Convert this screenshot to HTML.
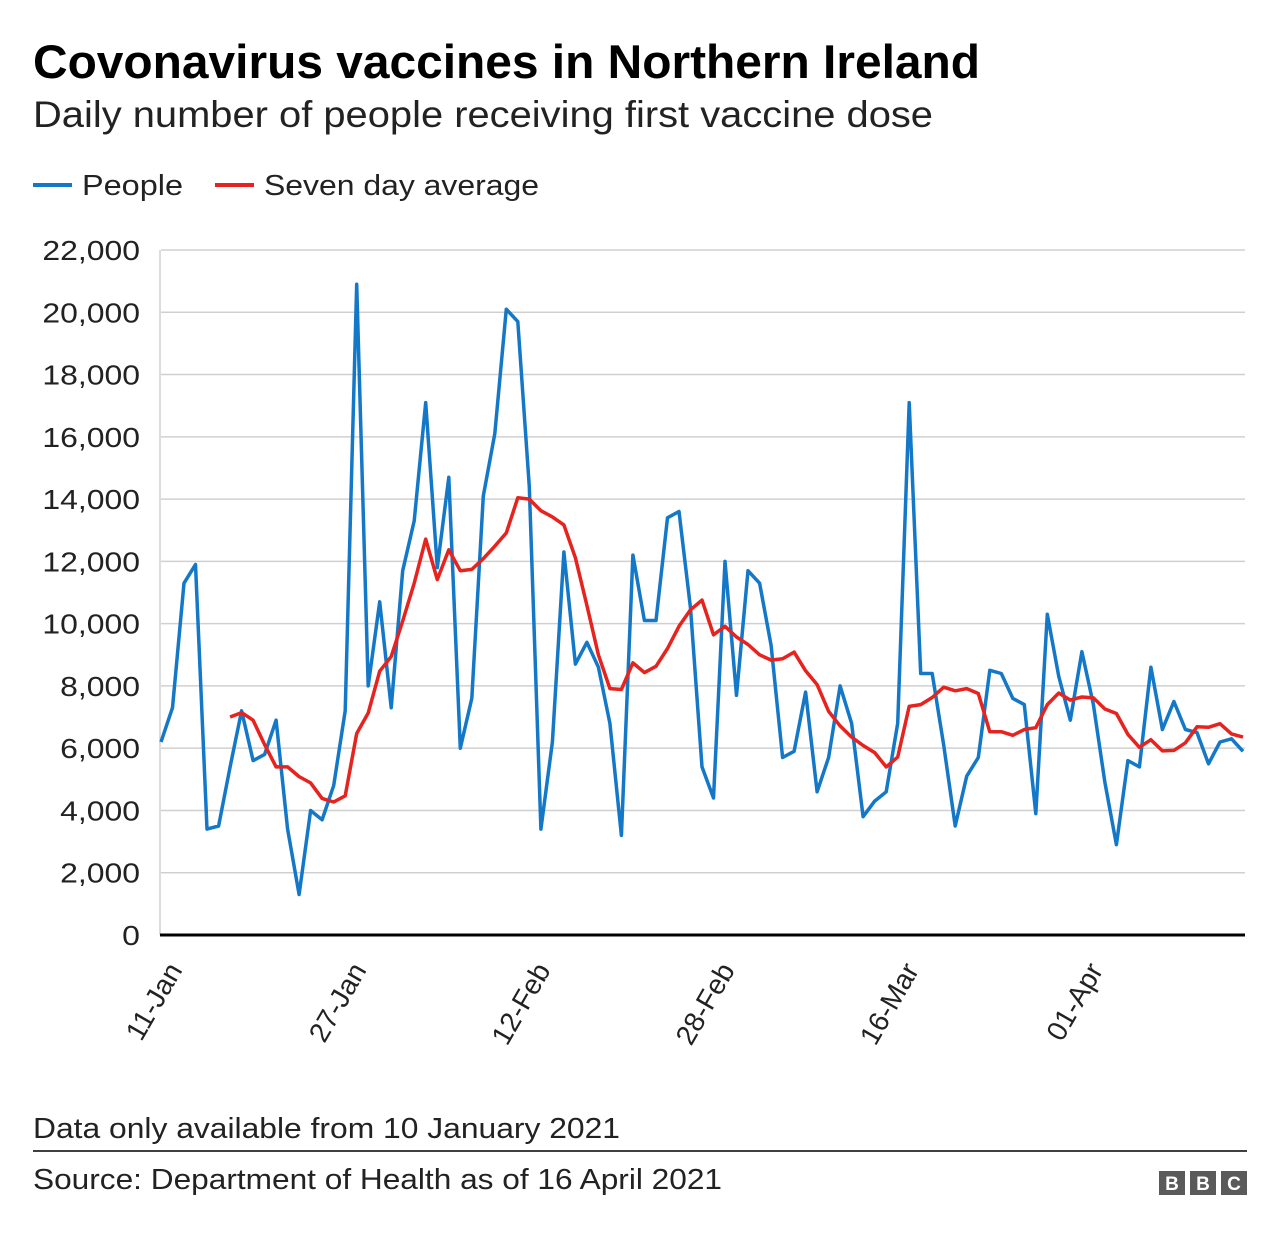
<!DOCTYPE html>
<html><head><meta charset="utf-8"><style>
body{margin:0;background:#fff;font-family:"Liberation Sans",Arial,sans-serif}
</style></head><body>
<svg id="s" width="1280" height="1238" xmlns="http://www.w3.org/2000/svg" font-family="Liberation Sans, Arial, sans-serif">
<text x="33" y="78" font-size="47" font-weight="bold" fill="#000" textLength="947" lengthAdjust="spacingAndGlyphs">Covonavirus vaccines in Northern Ireland</text>
<text x="33" y="127" font-size="37" fill="#222" textLength="900" lengthAdjust="spacingAndGlyphs">Daily number of people receiving first vaccine dose</text>
<line x1="33" y1="185" x2="72" y2="185" stroke="#1478c8" stroke-width="4"/>
<text x="82" y="195" font-size="29" fill="#222" textLength="101" lengthAdjust="spacingAndGlyphs">People</text>
<line x1="215" y1="185" x2="254" y2="185" stroke="#e6231e" stroke-width="4"/>
<text x="264" y="195" font-size="29" fill="#222" textLength="275" lengthAdjust="spacingAndGlyphs">Seven day average</text>
<g id="grid"></g>
<g id="series"></g>
<text x="33" y="1138" font-size="29" fill="#222" textLength="587" lengthAdjust="spacingAndGlyphs">Data only available from 10 January 2021</text>
<line x1="33" y1="1151" x2="1247" y2="1151" stroke="#000" stroke-width="1.5"/>
<text x="33" y="1189" font-size="29" fill="#222" textLength="689" lengthAdjust="spacingAndGlyphs">Source: Department of Health as of 16 April 2021</text>
<g font-size="19" font-weight="bold" fill="#fff">
<rect x="1159" y="1171" width="26" height="24" fill="#5a5a5a"/><text x="1172" y="1190" text-anchor="middle">B</text>
<rect x="1190" y="1171" width="26" height="24" fill="#5a5a5a"/><text x="1203" y="1190" text-anchor="middle">B</text>
<rect x="1221" y="1171" width="26" height="24" fill="#5a5a5a"/><text x="1234" y="1190" text-anchor="middle">C</text>
</g>
</svg>
<script>
var d=[6200,7300,11300,11900,3400,3500,5400,7200,5600,5800,6900,3400,1300,4000,3700,4800,7200,20900,8000,10700,7300,11700,13300,17100,11800,14700,6000,7600,14100,16100,20100,19700,14400,3400,6200,12300,8700,9400,8600,6800,3200,12200,10100,10100,13400,13600,10500,5400,4400,12000,7700,11700,11300,9300,5700,5900,7800,4600,5700,8000,6800,3800,4300,4600,6800,17100,8400,8400,6100,3500,5100,5700,8500,8400,7600,7400,3900,10300,8300,6900,9100,7400,4900,2900,5600,5400,8600,6600,7500,6600,6500,5500,6200,6300,5900];
var x0=161,dx=(1243-161)/94,y0=935,k=685/22000;
function X(i){return x0+dx*i}function Y(v){return y0-v*k}
var g='';
for(var v=0;v<=22000;v+=2000){var y=Y(v);
if(v>0)g+='<line x1="161" y1="'+y+'" x2="1245" y2="'+y+'" stroke="#d0d0d0" stroke-width="1.5"/>';
g+='<text class="tk" x="140" y="'+(y+10)+'" font-size="28" text-anchor="end" fill="#222">'+v.toLocaleString('en-US')+'</text>';}
g+='<line x1="160" y1="250" x2="160" y2="935" stroke="#d0d0d0" stroke-width="1.5"/>';
var labs=['11-Jan','27-Jan','12-Feb','28-Feb','16-Mar','01-Apr'];
labs.forEach(function(l,j){var x=X(j*16)+22,y=970;
g+='<text class="tx" transform="translate('+x+','+y+') rotate(-60)" font-size="28" text-anchor="end" fill="#222">'+l+'</text>';});
document.getElementById('grid').innerHTML=g;
document.querySelectorAll('.tk').forEach(function(t){var w=t.getComputedTextLength();t.setAttribute('textLength',(w*1.14).toFixed(1));t.setAttribute('lengthAdjust','spacingAndGlyphs');});
var p=d.map(function(v,i){return X(i).toFixed(1)+','+Y(v).toFixed(1)}).join(' ');
var r=[];for(var i=6;i<d.length;i++){var s=0;for(var j=i-6;j<=i;j++)s+=d[j];r.push(X(i).toFixed(1)+','+Y(s/7).toFixed(1));}
document.getElementById('series').innerHTML='<polyline points="'+p+'" fill="none" stroke="#1478c8" stroke-width="3.5" stroke-linejoin="round"/>'+
'<polyline points="'+r.join(' ')+'" fill="none" stroke="#e6231e" stroke-width="3.5" stroke-linejoin="round"/>'+
'<line x1="160" y1="935" x2="1245" y2="935" stroke="#000" stroke-width="3"/>';
</script>
</body></html>
